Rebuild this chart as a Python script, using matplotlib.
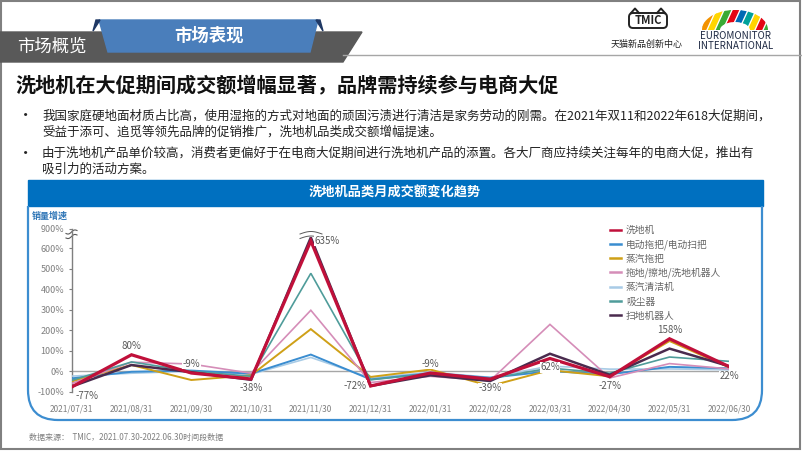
import numpy as np
import matplotlib
matplotlib.use('Agg')
import matplotlib.pyplot as plt
from matplotlib.patches import Polygon, Rectangle, FancyBboxPatch, PathPatch
from matplotlib.path import Path

plt.rcParams['font.family'] = ['Noto Sans CJK SC', 'DejaVu Sans']

# ---- data ----
months = ['2021/07/31', '2021/08/31', '2021/09/30', '2021/10/31', '2021/11/30', '2021/12/31',
          '2022/01/31', '2022/02/28', '2022/03/31', '2022/04/30', '2022/05/31', '2022/06/30']
names = ['洗地机', '电动拖把/电动扫把', '蒸汽拖把', '拖地/擦地/洗地机器人', '蒸汽清洁机', '吸尘器', '扫地机器人']
xidiji = [-77, 80, -9, -38, 635, -72, -9, -39, 62, -27, 158, 22]
diandong = [-35, -3, 3, -12, 81, -40, -10, -32, 0, -15, 21, 14]
zhengqi_tuoba = [-50, 30, -43, -20, 205, -28, 8, -72, 5, -25, 147, 18]
tuodi_robot = [-60, 44, 35, -10, 297, -55, -25, -46, 228, -33, 37, 11]
zhengqi_qingjie = [-24, -10, 0, -15, 67, -33, -5, -30, 25, 10, 11, 7]
xichenqi = [-45, 45, 0, -25, 477, -42, -12, -36, 15, -10, 69, 48]
saodi_robot = [-75, 30, -5, -42, 660, -72, -20, -48, 85, -18, 110, 24]
yticks = [-100, 0, 100, 200, 300, 400, 500, 600, 900]

colors = ['#C0103A', '#3A8DD0', '#CFA017', '#D58DB8', '#A8CBE6', '#4F9C9A', '#4A2B4E']
widths = [2.3, 1.4, 1.4, 1.2, 1.2, 1.2, 1.8]
zorders = [9, 4, 5, 6, 3, 7, 8]
series = [xidiji, diandong, zhengqi_tuoba, tuodi_robot, zhengqi_qingjie, xichenqi, saodi_robot]

# label offsets (points) for the 洗地机 data labels
label_off = [(11, -6.5), (0, 6.5), (0, 6.5), (0, -6.5), (12, 0), (-11, 0),
             (0, 6.5), (0, -6.5), (0, -6.5), (0, -6.5), (0, 6.5), (0, -7)]

W, H = 802, 451
fig = plt.figure(figsize=(W / 100, H / 100), dpi=100)
bg = fig.add_axes([0, 0, 1, 1])
bg.set_xlim(0, W)
bg.set_ylim(H, 0)
bg.axis('off')

# slide frame
bg.add_patch(Rectangle((1, 1), 799, 448, fill=False, ec='#808080', lw=1.5))

# header tabs
bg.plot([343, 802], [55, 55], color='#A6A6A6', lw=1)
bg.add_patch(Polygon([(0, 32), (362, 32), (343, 62), (0, 62)], closed=True, color='#595959'))
bg.add_patch(Polygon([(99, 20), (318, 20), (310, 52), (108, 52)], closed=True, color='#4A7EBB'))
bg.add_patch(Polygon([(96, 20), (100, 20), (93, 31)], closed=True, color='#1F3864'))
bg.add_patch(Polygon([(316, 20), (320, 20), (323, 31)], closed=True, color='#1F3864'))
bg.text(52, 47, '市场概览', color='white', fontsize=12.5, ha='center', va='center')
bg.text(209, 36, '市场表现', color='white', fontsize=12.5, fontweight='bold', ha='center', va='center')

# logos
bg.add_patch(FancyBboxPatch((629, 13), 38, 15, boxstyle='round,pad=0,rounding_size=4',
                            fill=False, ec='#222222', lw=1.4))
bg.plot([631, 635, 639], [13, 8.5, 13], color='#222222', lw=1.4)
bg.plot([657, 661, 665], [13, 8.5, 13], color='#222222', lw=1.4)
bg.text(648, 21, 'TMIC', fontsize=8, fontweight='bold', ha='center', va='center', color='#222222')
bg.text(647, 44, '天猫新品创新中心', fontsize=6.5, ha='center', va='center', color='#222222')

th = np.linspace(np.pi, 0, 40)
ring = list(zip(735 + 33 * np.cos(th), 30 - 20 * np.sin(th))) + \
    list(zip(735 + 15 * np.cos(th[::-1]), 30 - 8 * np.sin(th[::-1])))
clip = Polygon(ring, closed=True, transform=bg.transData, fc='none', ec='none')
bg.add_patch(clip)
arch_cols = ['#F39200', '#FFD500', '#3AAA35', '#E30613', '#0069B4', '#00A19A', '#FFD500', '#E30613', '#3AAA35']
for i, c in enumerate(arch_cols):
    xs = 700 + i * 8
    p = Polygon([(xs, 31), (xs + 5, 31), (xs + 15, 9), (xs + 10, 9)], closed=True, color=c)
    bg.add_patch(p)
    p.set_clip_path(clip)
bg.text(735.5, 36, 'EUROMONITOR', fontsize=7, ha='center', va='center', color='#1F2A44')
bg.text(735.5, 46, 'INTERNATIONAL', fontsize=7, ha='center', va='center', color='#1F2A44')

# title and bullets
bg.text(15, 85, '洗地机在大促期间成交额增幅显著，品牌需持续参与电商大促', fontsize=14.5,
        fontweight='bold', va='center', color='#111111')
bullets = [
    (116, '我国家庭硬地面材质占比高，使用湿拖的方式对地面的顽固污渍进行清洁是家务劳动的刚需。在2021年双11和2022年618大促期间，', True),
    (132, '受益于添可、追觅等领先品牌的促销推广，洗地机品类成交额增幅提速。', False),
    (153, '由于洗地机产品单价较高，消费者更偏好于在电商大促期间进行洗地机产品的添置。各大厂商应持续关注每年的电商大促，推出有', True),
    (169, '吸引力的活动方案。', False),
]
for y, s, dot in bullets:
    if dot:
        bg.text(26, y, '•', fontsize=11, va='center', ha='center', color='#222222')
    bg.text(42, y, s, fontsize=9, va='center', color='#222222')

# chart box
bg.add_patch(Rectangle((28, 180), 735, 26, color='#0070C0'))
bg.text(395, 193, '洗地机品类月成交额变化趋势', fontsize=9.5, fontweight='bold', color='white',
        ha='center', va='center')
verts = [(28, 206), (28, 390), (28, 420), (58, 420), (732, 420), (762, 420), (762, 390), (762, 206)]
codes = [Path.MOVETO, Path.LINETO, Path.CURVE3, Path.CURVE3, Path.LINETO, Path.CURVE3, Path.CURVE3, Path.LINETO]
bg.add_patch(PathPatch(Path(verts, codes), fill=False, ec='#3C8DD0', lw=1.6))
bg.text(32, 216, '销量增速', fontsize=6.5, fontweight='bold', color='#2E75B6', va='center')
bg.text(29, 437, '数据来源：  TMIC，2021.07.30-2022.06.30时间段数据', fontsize=5.8, color='#7F7F7F', va='center')

# ---- line chart ----
def fwd(v):
    v = np.asarray(v, dtype=float)
    return np.where(v <= 650, v, 650 + (v - 650) * 43 / 250)


def inv(u):
    u = np.asarray(u, dtype=float)
    return np.where(u <= 650, u, 650 + (u - 650) * 250 / 43)


x0px, x1px, ybot, ytop = 71.7, 729.3, 391.7, 229
ax = fig.add_axes([x0px / W, 1 - ybot / H, (x1px - x0px) / W, (ybot - ytop) / H])
ax.set_facecolor('none')
ax.set_yscale('function', functions=(fwd, inv))
x = np.arange(len(months))
ax.axhline(0, color='#A6A6A6', lw=1, zorder=1)
for name, vals, c, lw, z in zip(names, series, colors, widths, zorders):
    ax.plot(x, vals, color=c, lw=lw, label=name, zorder=z, solid_joinstyle='miter')
ax.set_xlim(0, 11)
ax.set_ylim(-100, 900)
ax.set_yticks(yticks)
ax.set_yticklabels([f'{t}%' for t in yticks])
ax.set_xticks(x)
ax.set_xticklabels(months)
ax.tick_params(axis='y', length=2.5, width=0.8, color='#7F7F7F', pad=3, labelsize=6.5, labelcolor='#7F7F7F')
ax.tick_params(axis='x', length=0, pad=9, labelsize=6, labelcolor='#7F7F7F')
for s in ['top', 'right', 'bottom']:
    ax.spines[s].set_visible(False)
ax.spines['left'].set_color('#7F7F7F')
ax.spines['left'].set_linewidth(1)

for xi, v, off in zip(x, xidiji, label_off):
    ax.annotate(f'{v}%', (xi, v), xytext=off, textcoords='offset points', ha='center', va='center',
                fontsize=7, color='#595959', zorder=20,
                bbox=dict(boxstyle='square,pad=0.05', fc='white', ec='none'))

leg = ax.legend(loc='upper left', bbox_to_anchor=(610 / W, 1 - 225 / H), bbox_transform=fig.transFigure,
                frameon=False, fontsize=7, handlelength=1.15, handletextpad=0.5, labelspacing=0.42,
                borderpad=0, borderaxespad=0)
for t in leg.get_texts():
    t.set_color('#666666')
for h in leg.get_lines():
    h.set_linewidth(1.8)

# axis break marks
tt = np.linspace(0, 1, 20)
bg.add_patch(Polygon([(66, 234), (77, 230.5), (77, 234.5), (66, 238)], closed=True, color='white', zorder=30))
for yb in (232, 236.5):
    bg.plot(66 + 11 * tt, yb + 1.5 - 3 * tt + 1.2 * np.sin(2 * np.pi * tt), color='#595959', lw=0.8, zorder=31)
for yb in (234, 238.5):
    bg.plot(300 + 22 * tt, yb - 2.5 * np.sin(np.pi * tt), color='#595959', lw=0.7, zorder=31)

fig.savefig('out.png', dpi=100)
